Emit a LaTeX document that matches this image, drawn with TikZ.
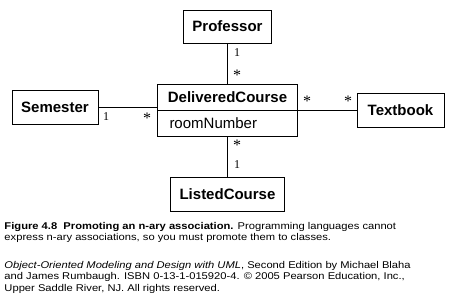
\documentclass[tikz,border=0pt]{standalone}
\usepackage{fontspec}
\setmainfont{Liberation Sans}
\newfontfamily\multfont{Liberation Serif}
\newfontfamily\capfont{Liberation Sans}[FakeStretch=1.14]
\usetikzlibrary{positioning}

\begin{document}
\begin{tikzpicture}[x=1pt,y=-1pt,line width=1pt,
  classbox/.style={draw,inner sep=0pt,font=\fontsize{15}{18}\selectfont\bfseries},
  mult/.style={inner sep=0pt,font=\multfont\fontsize{12}{14}\selectfont},
  many/.style={inner sep=0pt,font=\multfont\fontsize{16}{16}\selectfont},
  captext/.style={anchor=north west,inner sep=0pt,align=left,font=\capfont\fontsize{9.8}{11.4}\selectfont}]
\useasboundingbox (0,0) rectangle (455,301);
% classes
\node[classbox,minimum width=88,minimum height=33] (prof) at (227.5,26.5) {Professor};
\node[classbox,minimum width=86,minimum height=34] (sem) at (55,107) {Semester};
\node[classbox,minimum width=87,minimum height=34] (book) at (400.5,110) {Textbook};
\node[classbox,minimum width=114,minimum height=34] (listed) at (227.5,194) {ListedCourse};
\node[classbox,minimum width=140,minimum height=52] (dc) at (227.5,110) {};
\node[font=\fontsize{15}{18}\selectfont\bfseries] (dcname) at (227.5,97) {DeliveredCourse};
\node[anchor=west,inner sep=0pt,font=\fontsize{15}{18}\selectfont] (dcattr) at (169,123) {roomNumber};
\draw (dc.west) -- (dc.east);
% associations
\draw (prof.south) -- (dc.north);
\draw (sem.east) -- (sem.east -| dc.west);
\draw (dc.east) -- (book.west);
\draw (dc.south) -- (listed.north);
% multiplicities
\node[mult] (mprof) at (237,53) {1};
\node[many] (mdctop) at (237,75) {*};
\node[mult] (msem) at (106,117) {1};
\node[many] (mdcleft) at (147,118) {*};
\node[many] (mdcright) at (307,101) {*};
\node[many] (mbook) at (348,101) {*};
\node[many] (mdcbot) at (237,145) {*};
\node[mult] (mlisted) at (237,165) {1};
% caption
\node[captext] (caption) at (4,221.8) {\textbf{Figure 4.8\ \ Promoting an n-ary association.} Programming languages cannot\\express n-ary associations, so you must promote them to classes.};
\node[captext] (credit) at (4,260.8) {\textit{Object-Oriented Modeling and Design with UML}, Second Edition by Michael Blaha\\and James Rumbaugh. ISBN 0-13-1-015920-4. \textcopyright{} 2005 Pearson Education, Inc.,\\Upper Saddle River, NJ. All rights reserved.};
\end{tikzpicture}
\end{document}
